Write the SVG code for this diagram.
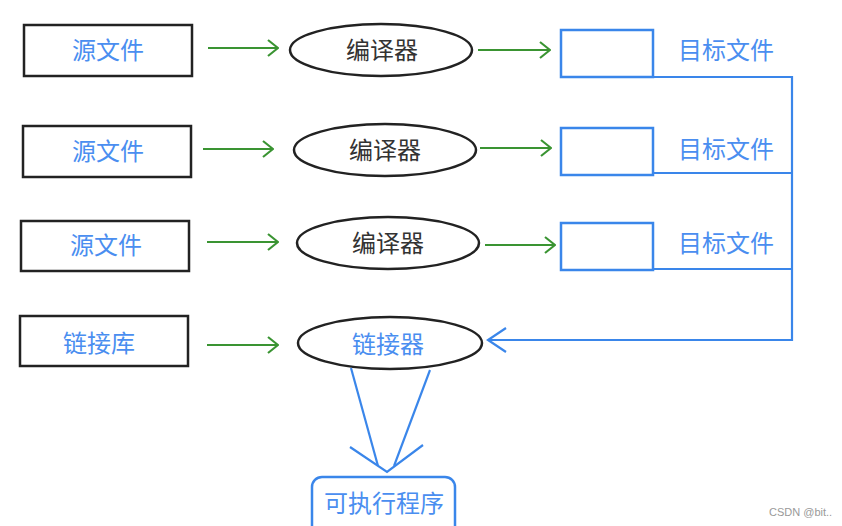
<svg xmlns="http://www.w3.org/2000/svg" width="842" height="526" viewBox="0 0 842 526">
<style>
.box{fill:#fff;stroke:#222;stroke-width:2.5}
.ell{fill:#fff;stroke:#222;stroke-width:2.5}
.obj{fill:none;stroke:#3a86ea;stroke-width:2.5}
.t{font-family:"Noto Sans CJK SC","Noto Sans",sans-serif;font-size:24px;text-anchor:middle}
.bt{fill:#4a8ef0}
.kt{fill:#333}
.g{stroke:#3a9432;stroke-width:2.2;fill:none}
.b{stroke:#3a86ea;stroke-width:2.2;fill:none}
</style>
<defs>
<marker id="ga" viewBox="0 0 12 20" refX="11" refY="10" markerWidth="12" markerHeight="20" markerUnits="userSpaceOnUse" orient="auto">
<polyline points="1,2 11,10 1,18" fill="none" stroke="#3a9432" stroke-width="2.2"/>
</marker>
</defs>
<rect width="842" height="526" fill="#fff"/>
<g id="src1"><rect class="box" x="24" y="25" width="168" height="51"/><text class="t bt" x="108" y="59">源文件</text></g>
<g id="src2"><rect class="box" x="23" y="126" width="168" height="51"/><text class="t bt" x="108" y="160">源文件</text></g>
<g id="src3"><rect class="box" x="21" y="221" width="168" height="50"/><text class="t bt" x="106" y="254">源文件</text></g>
<g id="lib"><rect class="box" x="20" y="316" width="168" height="50"/><text class="t bt" x="99" y="352">链接库</text></g>
<g id="cc1"><ellipse class="ell" cx="381" cy="50" rx="91" ry="26"/><text class="t kt" x="382" y="59">编译器</text></g>
<g id="cc2"><ellipse class="ell" cx="385" cy="150" rx="91" ry="26"/><text class="t kt" x="385" y="159">编译器</text></g>
<g id="cc3"><ellipse class="ell" cx="388" cy="243" rx="91" ry="26"/><text class="t kt" x="388" y="252">编译器</text></g>
<g id="ld"><ellipse class="ell" cx="390" cy="343" rx="92" ry="26"/><text class="t bt" x="388" y="353">链接器</text></g>
<g id="obj1"><rect class="obj" x="561" y="30" width="92" height="47"/><text class="t bt" x="726" y="59">目标文件</text></g>
<g id="obj2"><rect class="obj" x="561" y="128" width="92" height="47"/><text class="t bt" x="726" y="158">目标文件</text></g>
<g id="obj3"><rect class="obj" x="561" y="223" width="92" height="47"/><text class="t bt" x="726" y="252">目标文件</text></g>
<g id="exe"><rect class="obj" x="312" y="477" width="143" height="60" rx="10"/><text class="t bt" x="384" y="512">可执行程序</text></g>
<g id="connectors">
<line class="g" x1="208" y1="48" x2="278" y2="48" marker-end="url(#ga)"/>
<line class="g" x1="203" y1="149" x2="273" y2="149" marker-end="url(#ga)"/>
<line class="g" x1="207" y1="242" x2="278" y2="242" marker-end="url(#ga)"/>
<line class="g" x1="207" y1="345" x2="278" y2="345" marker-end="url(#ga)"/>
<line class="g" x1="478" y1="50" x2="550" y2="50" marker-end="url(#ga)"/>
<line class="g" x1="480" y1="148" x2="551" y2="148" marker-end="url(#ga)"/>
<line class="g" x1="485" y1="245" x2="555" y2="245" marker-end="url(#ga)"/>
<polyline class="b" points="653,77 792,77 792,340 488,340"/>
<line class="b" x1="653" y1="173" x2="792" y2="173"/>
<line class="b" x1="653" y1="269" x2="792" y2="269"/>
<polyline class="b" points="506,328 488,340 506,352"/>
<line class="b" x1="351" y1="368" x2="378" y2="466"/>
<line class="b" x1="430" y1="370" x2="394" y2="466"/>
<polyline class="b" points="350,447 387,472 423,445"/>
</g>
<text x="769" y="516" font-family="Liberation Sans,Arial,sans-serif" font-size="11" fill="#999">CSDN @bit..</text>
</svg>
